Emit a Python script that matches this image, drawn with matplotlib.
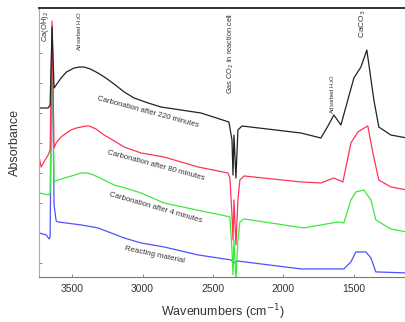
import matplotlib
matplotlib.use("Agg")
import matplotlib.pyplot as plt
import numpy as np

plt.rcParams["font.family"] = ["Liberation Sans", "DejaVu Sans"]

# wavenumber (cm-1) / absorbance (arbitrary units)
wn_220 = [3734, 3670, 3656, 3642, 3628, 3613, 3578, 3540, 3486, 3450, 3415, 3370,
          3316, 3260, 3202, 3130, 3060, 2960, 2869, 2585, 2387, 2365, 2358, 2351,
          2337, 2323, 2294, 1876, 1734, 1680, 1642, 1592, 1543, 1500, 1450, 1408,
          1358, 1323, 1238, 1124]
ab_220 = [1.69, 1.69, 1.72, 2.50, 1.89, 1.92, 1.99, 2.05, 2.09, 2.10, 2.10, 2.08,
          2.04, 1.99, 1.93, 1.85, 1.79, 1.74, 1.70, 1.64, 1.55, 1.37, 1.02, 1.42,
          0.99, 1.47, 1.51, 1.44, 1.39, 1.52, 1.62, 1.52, 1.77, 1.99, 2.10, 2.27,
          1.77, 1.50, 1.42, 1.39]

wn_80 = [3734, 3720, 3691, 3670, 3656, 3642, 3628, 3613, 3578, 3540, 3507, 3470,
         3436, 3400, 3379, 3330, 3273, 3200, 3131, 3011, 2848, 2606, 2394, 2380,
         2365, 2358, 2351, 2337, 2323, 2309, 2280, 1876, 1734, 1642, 1578, 1521,
         1472, 1415, 1401, 1365, 1323, 1238, 1124]
ab_80 = [1.20, 1.10, 1.17, 1.22, 1.27, 2.56, 1.29, 1.34, 1.40, 1.44, 1.47, 1.49,
         1.50, 1.51, 1.51, 1.48, 1.42, 1.36, 1.30, 1.24, 1.20, 1.10, 1.04, 0.99,
         0.62, 0.37, 0.77, 0.32, 0.77, 0.97, 1.01, 0.95, 0.94, 0.99, 0.95, 1.34,
         1.45, 1.50, 1.51, 1.24, 0.97, 0.90, 0.87]

wn_4 = [3734, 3670, 3656, 3642, 3628, 3599, 3528, 3480, 3436, 3400, 3365, 3316,
        3260, 3202, 3100, 3011, 2848, 2585, 2443, 2380, 2365, 2358, 2351, 2337,
        2323, 2309, 2280, 1855, 1613, 1571, 1521, 1486, 1429, 1379, 1344, 1238,
        1124]
ab_4 = [0.84, 0.82, 0.84, 2.52, 0.95, 0.97, 1.00, 1.02, 1.04, 1.04, 1.03, 1.00,
        0.96, 0.92, 0.88, 0.84, 0.74, 0.66, 0.62, 0.60, 0.27, 0.02, 0.37, -0.03,
        0.37, 0.55, 0.58, 0.49, 0.55, 0.54, 0.77, 0.85, 0.87, 0.77, 0.57, 0.48,
        0.45]

wn_0 = [3734, 3684, 3663, 3656, 3642, 3628, 3613, 3599, 3436, 3316, 3131, 3011,
        2848, 2606, 2372, 2351, 2330, 1876, 1571, 1521, 1486, 1415, 1379, 1344,
        1124]
ab_0 = [0.44, 0.42, 0.38, 0.40, 2.47, 0.72, 0.56, 0.55, 0.52, 0.49, 0.39, 0.34,
        0.30, 0.22, 0.17, 0.14, 0.16, 0.08, 0.08, 0.15, 0.25, 0.25, 0.19, 0.05,
        0.04]

xticks = [3500, 3000, 2500, 2000, 1500]

fig = plt.figure(figsize=(4.06, 3.22), dpi=100)
ax = fig.add_axes([0.096, 0.140, 0.904, 0.835])

ax.plot(wn_0, ab_0, color="#5050ff", lw=0.9)
ax.plot(wn_4, ab_4, color="#3de83d", lw=0.9)
ax.plot(wn_80, ab_80, color="#ff3358", lw=0.9)
ax.plot(wn_220, ab_220, color="#222222", lw=0.9)

ax.set_xlim(3735, 1130)
ax.set_ylim(0, 2.69)
ax.set_xticks(xticks)
ax.set_yticks(np.arange(0.14, 2.6, 0.3))
ax.set_yticklabels([])
ax.tick_params(axis="both", direction="in", length=2.5, width=0.6,
               colors="#777777", labelsize=7.5, labelcolor="#333333", pad=5)

ax.spines["right"].set_visible(False)
ax.spines["top"].set_linewidth(1.4)
ax.spines["top"].set_color("#333333")
ax.spines["left"].set_color("#aaaaaa")
ax.spines["left"].set_linewidth(0.8)
ax.spines["bottom"].set_color("#777777")
ax.spines["bottom"].set_linewidth(0.8)

ax.set_xlabel("Wavenumbers (cm$^{-1}$)", fontsize=9, color="#333333", labelpad=6)
ax.set_ylabel("Absorbance", fontsize=9, color="#333333", labelpad=8)

txt = dict(color="#333333", rotation=90, va="top", ha="center")
ax.text(3690, 2.66, "Ca(OH)$_2$", fontsize=5.5, **txt)
ax.text(3448, 2.66, "Adsorbed H$_2$O", fontsize=4.2, **txt)
ax.text(2372, 2.64, "Gas CO$_2$ in reaction cell", fontsize=5.3, **txt)
ax.text(1652, 2.03, "Adsorbed H$_2$O", fontsize=4.2, **txt)
ax.text(1436, 2.68, "CaCO$_3$", fontsize=6, **txt)

lab = dict(color="#333333", ha="center", va="center", fontsize=5.6)
ax.text(2961, 1.65, "Carbonation after 220 minutes", rotation=-15, **lab)
ax.text(2904, 1.11, "Carbonation after 80 minutes", rotation=-15, **lab)
ax.text(2904, 0.69, "Carbonation after 4 minutes", rotation=-16, **lab)
ax.text(2918, 0.22, "Reacting material", rotation=-12, **lab)

fig.savefig("out.png", dpi=100)
